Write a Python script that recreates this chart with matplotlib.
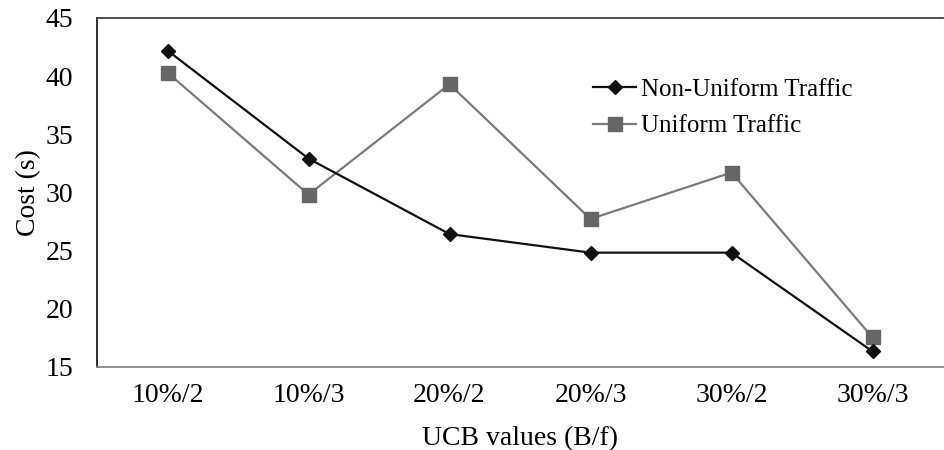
import matplotlib
matplotlib.use("Agg")
import matplotlib.pyplot as plt

categories = ["10%/2", "10%/3", "20%/2", "20%/3", "30%/2", "30%/3"]
non_uniform = [42.2, 32.9, 26.4, 24.8, 24.8, 16.3]
uniform = [40.3, 29.8, 39.3, 27.7, 31.7, 17.5]
yticks = [15, 20, 25, 30, 35, 40, 45]

plt.rcParams['font.family'] = ['Liberation Serif', 'DejaVu Serif']

fig = plt.figure(figsize=(9.44, 4.5), dpi=100)
ax = fig.add_axes([97/944, 1-366.5/450, 846/944, (366.5-18)/450])

x = list(range(len(categories)))
ax.plot(x, non_uniform, color='#111111', lw=1.6, marker='D', ms=7.6,
        markerfacecolor='#111111', markeredgecolor='#111111', label='Non-Uniform Traffic', zorder=3)
ax.plot(x, uniform, color='#7a7a7a', lw=1.6, marker='s', ms=9.4,
        markerfacecolor='#666666', markeredgecolor='#666666', label='Uniform Traffic', zorder=2)

ax.set_xlim(-0.5, len(categories) - 0.5)
ax.set_ylim(15, 45)
ax.set_xticks(x)
ax.set_xticklabels(categories)
ax.set_yticks(yticks)
ax.tick_params(axis='both', length=0, labelsize=20)
ax.tick_params(axis='y', pad=17)
ax.tick_params(axis='x', pad=12)

ax.spines['right'].set_visible(False)
ax.spines['top'].set_color('#404040')
ax.spines['left'].set_color('#202020')
ax.spines['bottom'].set_color('#868686')
for s in ['top', 'left', 'bottom']:
    ax.spines[s].set_linewidth(1.3)

ax.set_ylabel('Cost (s)', fontsize=20, labelpad=3)
ax.set_xlabel('UCB values (B/f)', fontsize=20, labelpad=13)

leg = ax.legend(loc='upper left', bbox_to_anchor=(0.575, 0.855), frameon=False,
                fontsize=18, handlelength=1.7, handletextpad=0.2, labelspacing=0.55,
                borderaxespad=0)

fig.savefig('out.png', dpi=100)
